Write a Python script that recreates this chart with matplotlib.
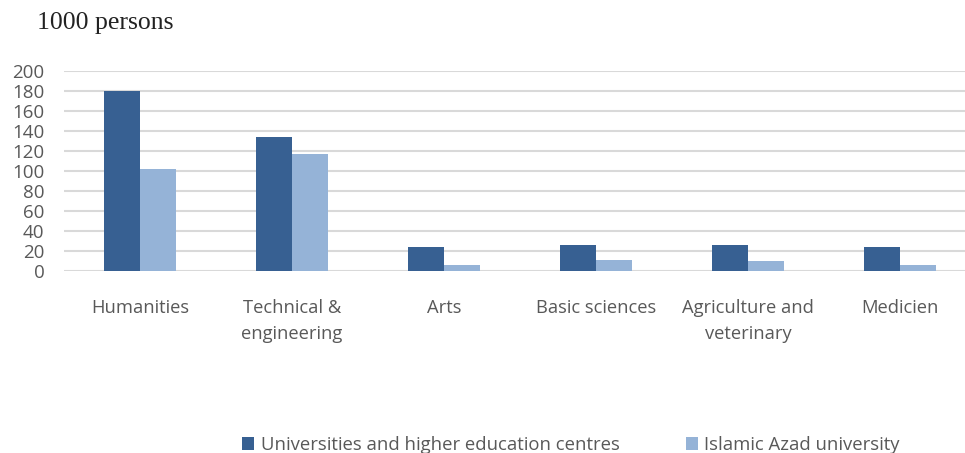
import numpy as np
import matplotlib.pyplot as plt

categories = ["Humanities", "Technical &\nengineering", "Arts", "Basic sciences",
              "Agriculture and\nveterinary", "Medicien"]
universities = [180, 134, 24, 26, 26, 24]
azad = [102, 117, 6, 11, 10, 6]
series_names = ["Universities and higher education centres", "Islamic Azad university"]

dark = "#376092"
light = "#95b3d7"
grey = "#595959"

fig = plt.figure(figsize=(9.65, 4.53), dpi=100)
ax = fig.add_axes([64 / 965, (453 - 271) / 453, 912 / 965, 200 / 453])

x = np.arange(len(categories))
w = 0.235
ax.bar(x - w / 2, universities, w, color=dark, label=series_names[0], zorder=3)
ax.bar(x + w / 2, azad, w, color=light, label=series_names[1], zorder=3)

ax.set_xlim(-0.5, len(categories) - 0.5)
ax.set_ylim(0, 200)
ax.set_yticks(range(0, 201, 20))
ax.yaxis.grid(True, color="#d9d9d9", linewidth=1.5, zorder=0)
ax.set_axisbelow(True)
for s in ax.spines.values():
    s.set_visible(False)
ax.tick_params(length=0)
ax.tick_params(axis="y", labelsize=13.5, labelcolor=grey, pad=14)
ax.set_xticks(x)
ax.set_xticklabels(categories, fontsize=13.2, color=grey, linespacing=1.55)
ax.tick_params(axis="x", pad=20.5)
for lab in ax.get_yticklabels() + ax.get_xticklabels():
    lab.set_family("Open Sans")

fig.text(37 / 965, 1 - 23 / 453, "1000 persons", fontsize=18.5, family="Liberation Serif",
         va="center", ha="left", color="#222222")

fig.legend(loc="center", bbox_to_anchor=(571 / 965, 1 - 445 / 453), ncol=2, frameon=False,
           prop={"family": "Open Sans", "size": 13.3}, labelcolor=grey, handlelength=0.65,
           handleheight=0.65, handletextpad=0.35, columnspacing=3.6)

fig.savefig("out.png", dpi=100)
